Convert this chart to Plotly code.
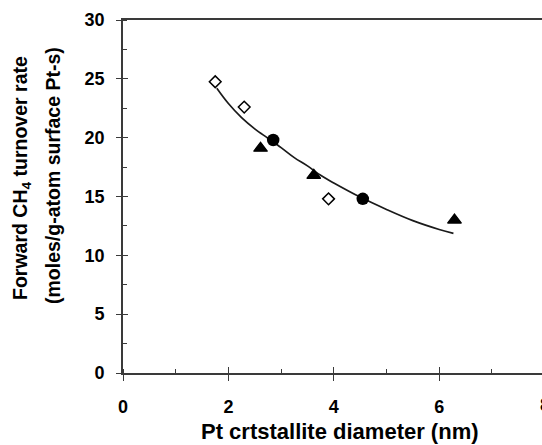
import plotly.graph_objects as go

# ---- data ----
diamond_x = [1.75, 2.30, 3.90]
diamond_y = [24.75, 22.6, 14.8]
circle_x = [2.85, 4.55]
circle_y = [19.8, 14.8]
triangle_x = [2.61, 3.62, 6.29]
triangle_y = [19.1, 16.8, 13.0]
fit_x = [1.78, 2.0, 2.25, 2.5, 2.75, 3.0, 3.25, 3.5, 3.75, 4.0, 4.5, 5.0, 5.5, 6.0, 6.27]
fit_y = [24.2, 22.9, 21.7, 20.75, 19.95, 19.15, 18.3, 17.6, 16.8, 16.15, 14.95, 13.9, 12.95, 12.2, 11.87]

x_ticks = [0, 2, 4, 6, 8]
y_ticks = [0, 5, 10, 15, 20, 25, 30]

W, H = 542, 445
ML, MR, MT, MB = 123, 0, 20, 72
px_per_x = 52.7
x_max = (W - ML - MR) / px_per_x
y_range = [0, 30]

FONT = "Arial, Liberation Sans, sans-serif"
AX_COLOR = "#3a3a3a"

fig = go.Figure()
fig.add_trace(go.Scatter(x=fit_x, y=fit_y, mode="lines", line=dict(color="#1a1a1a", width=1.7, shape="spline"),
                         showlegend=False, hoverinfo="skip"))
fig.add_trace(go.Scatter(x=diamond_x, y=diamond_y, mode="markers",
                         marker=dict(symbol="diamond-open", size=9, color="black", line=dict(width=1.5, color="black")),
                         showlegend=False))
fig.add_trace(go.Scatter(x=circle_x, y=circle_y, mode="markers",
                         marker=dict(symbol="circle", size=12.5, color="black"), showlegend=False))
fig.add_trace(go.Scatter(x=triangle_x, y=triangle_y, mode="markers",
                         marker=dict(symbol="triangle-up", size=12, color="black", line=dict(width=1.2, color="black")),
                         showlegend=False))

tickfont = dict(family=FONT, size=18, color="black", weight="bold")

fig.update_layout(
    width=W, height=H,
    margin=dict(l=ML, r=MR, t=MT, b=MB, pad=0),
    paper_bgcolor="white", plot_bgcolor="white",
    xaxis=dict(range=[0, x_max], tickvals=x_ticks, ticks="outside", ticklen=6, tickwidth=1.3, tickcolor=AX_COLOR,
               showline=True, linecolor=AX_COLOR, linewidth=1.6, mirror=True, showgrid=False, zeroline=False,
               tickfont=tickfont, ticklabelstandoff=11,
               minor=dict(dtick=1, ticks="inside", ticklen=4, tickwidth=1.3, tickcolor=AX_COLOR, showgrid=False)),
    yaxis=dict(range=y_range, tickvals=y_ticks, ticks="outside", ticklen=5, tickwidth=1.3, tickcolor=AX_COLOR,
               showline=True, linecolor=AX_COLOR, linewidth=1.6, showgrid=False, zeroline=False,
               tickfont=tickfont, ticklabelstandoff=8,
               minor=dict(dtick=2.5, ticks="inside", ticklen=4, tickwidth=1.3, tickcolor=AX_COLOR, showgrid=False)),
    xaxis2=dict(overlaying="x", anchor="y", side="bottom", range=[0, x_max], tickvals=x_ticks, ticks="inside",
                ticklen=6, tickwidth=1.3, tickcolor=AX_COLOR, showticklabels=False, showline=False,
                showgrid=False, zeroline=False),
    yaxis2=dict(overlaying="y", anchor="x", side="left", range=y_range, tickvals=y_ticks, ticks="inside",
                ticklen=5, tickwidth=1.3, tickcolor=AX_COLOR, showticklabels=False, showline=False,
                showgrid=False, zeroline=False),
)
# invisible trace so the overlay axes render
fig.add_trace(go.Scatter(x=[None], y=[None], xaxis="x2", yaxis="y2", showlegend=False, hoverinfo="skip"))

plot_w = W - ML - MR
plot_h = H - MT - MB

def px_x(px):
    return (px - ML) / plot_w

def px_y(py):
    return (H - MB - py) / plot_h

# partially visible "8" tick label beyond the right edge (as in the reference)
fig.add_annotation(text="8", xref="paper", yref="paper", x=x_ticks[-1] / x_max, y=px_y(405),
                   xanchor="center", yanchor="middle", showarrow=False,
                   font=dict(family=FONT, size=18, color="black", weight="bold"))

# x title
fig.add_annotation(text="Pt crtstallite diameter (nm)", xref="paper", yref="paper", x=px_x(340), y=px_y(431),
                   xanchor="center", yanchor="middle", showarrow=False,
                   font=dict(family=FONT, size=22, color="black", weight="bold"))
# y title (two lines)
fig.add_annotation(text="Forward CH<sub>4</sub> turnover rate", xref="paper", yref="paper", x=px_x(21), y=px_y(178),
                   xanchor="center", yanchor="middle", showarrow=False, textangle=-90,
                   font=dict(family=FONT, size=19.5, color="black", weight="bold"))
fig.add_annotation(text="(moles/g-atom surface Pt-s)", xref="paper", yref="paper", x=px_x(53), y=px_y(176),
                   xanchor="center", yanchor="middle", showarrow=False, textangle=-90,
                   font=dict(family=FONT, size=19.5, color="black", weight="bold"))

fig.write_html("out.html")
